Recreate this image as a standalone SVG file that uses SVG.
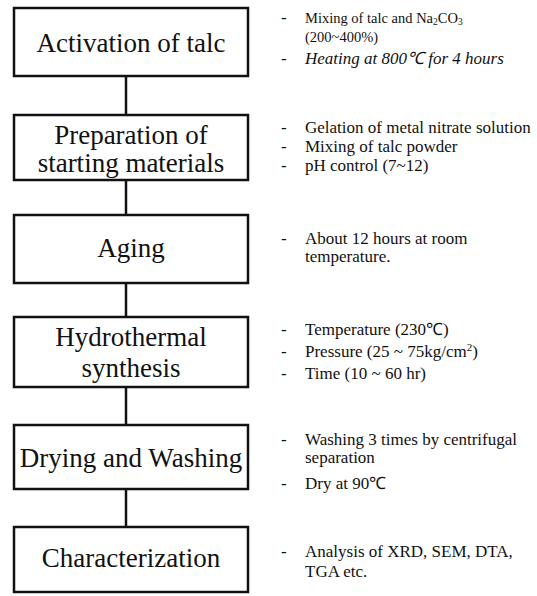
<svg xmlns="http://www.w3.org/2000/svg" width="537" height="596" viewBox="0 0 537 596">
<style>
.box{fill:#fff;stroke:#111;stroke-width:2.5}
.t{font-family:"Liberation Serif","Times New Roman",serif;font-size:27px;fill:#111;text-anchor:middle}
.n{font-family:"Liberation Serif","Times New Roman",serif;font-size:17px;fill:#111}
.s{font-size:14.5px}
.c{stroke:#111;stroke-width:2.5;fill:none}
</style>
<rect width="537" height="596" fill="#fff"/>
<g id="connectors">
<line class="c" x1="126" y1="76" x2="126" y2="115"/>
<line class="c" x1="126" y1="180" x2="126" y2="215"/>
<line class="c" x1="126" y1="283" x2="126" y2="317"/>
<line class="c" x1="126" y1="387" x2="126" y2="425"/>
<line class="c" x1="126" y1="489" x2="126" y2="527"/>
</g>
<g id="n1">
<rect class="box" x="14" y="8" width="234" height="68"/>
<text class="t" x="131" y="52">Activation of talc</text>
<text class="n" x="281" y="23">-</text>
<text class="n s" x="305" y="23">Mixing of talc and Na<tspan font-size="9.5" dy="2">2</tspan><tspan dy="-2">CO</tspan><tspan font-size="9.5" dy="2">3</tspan></text>
<text class="n s" x="305" y="42">(200~400%)</text>
<text class="n" x="281" y="64">-</text>
<text class="n" x="305" y="64" font-style="italic" font-size="14.5">Heating at 800℃  for 4 hours</text>
</g>
<g id="n2">
<rect class="box" x="14" y="115" width="234" height="65"/>
<text class="t" x="131" y="144">Preparation of</text>
<text class="t" x="131" y="172">starting materials</text>
<text class="n" x="281" y="133">-</text>
<text class="n" x="305" y="133">Gelation of metal nitrate solution</text>
<text class="n" x="281" y="152">-</text>
<text class="n" x="305" y="152">Mixing of talc powder</text>
<text class="n" x="281" y="171">-</text>
<text class="n" x="305" y="171">pH control (7~12)</text>
</g>
<g id="n3">
<rect class="box" x="14" y="215" width="234" height="68"/>
<text class="t" x="131" y="257">Aging</text>
<text class="n" x="281" y="244">-</text>
<text class="n" x="305" y="244">About 12 hours at room</text>
<text class="n" x="305" y="262">temperature.</text>
</g>
<g id="n4">
<rect class="box" x="14" y="317" width="234" height="70"/>
<text class="t" x="131" y="346">Hydrothermal</text>
<text class="t" x="131" y="377">synthesis</text>
<text class="n" x="281" y="335">-</text>
<text class="n" x="305" y="335">Temperature (230℃)</text>
<text class="n" x="281" y="357">-</text>
<text class="n" x="305" y="357">Pressure (25 ~ 75kg/cm<tspan font-size="11" dy="-6">2</tspan><tspan dy="6">)</tspan></text>
<text class="n" x="281" y="379">-</text>
<text class="n" x="305" y="379">Time (10 ~ 60 hr)</text>
</g>
<g id="n5">
<rect class="box" x="14" y="425" width="234" height="64"/>
<text class="t" x="131" y="467">Drying and Washing</text>
<text class="n" x="281" y="445">-</text>
<text class="n" x="305" y="445">Washing 3 times by centrifugal</text>
<text class="n" x="305" y="463">separation</text>
<text class="n" x="281" y="489">-</text>
<text class="n" x="305" y="489">Dry at 90℃</text>
</g>
<g id="n6">
<rect class="box" x="14" y="527" width="234" height="65"/>
<text class="t" x="131" y="567">Characterization</text>
<text class="n" x="281" y="557">-</text>
<text class="n" x="305" y="557">Analysis of XRD, SEM, DTA,</text>
<text class="n" x="305" y="577">TGA etc.</text>
</g>
</svg>
